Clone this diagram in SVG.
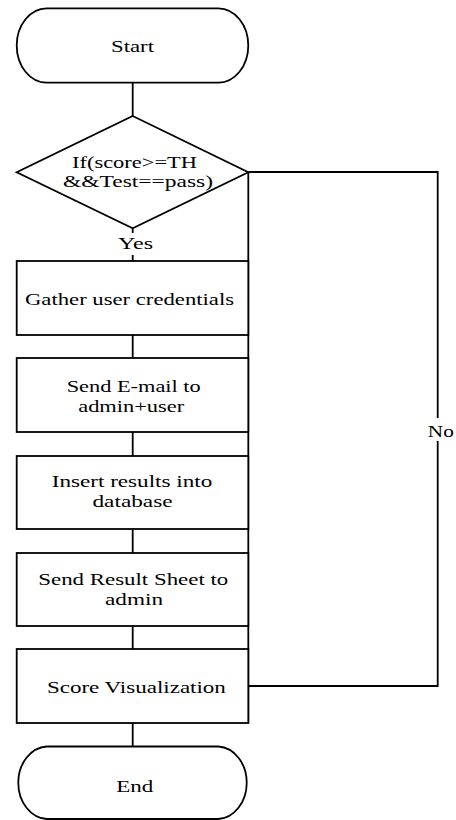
<svg xmlns="http://www.w3.org/2000/svg" width="456" height="820" viewBox="0 0 456 820">
<style>
.s{fill:#fff;stroke:#000;stroke-width:1.8}
.c{fill:none;stroke:#000;stroke-width:1.8}
.t{font-family:'Liberation Serif','DejaVu Serif',serif;font-size:16px;fill:#000;text-anchor:middle}
</style>
<rect width="456" height="820" fill="#fff"/>
<g id="connectors">
<path class="c" d="M132.7,82.7V116"/>
<path class="c" d="M132.7,228.3V233M132.7,255V261"/>
<path class="c" d="M132.7,335V358M132.7,432V456M132.7,529V553M132.7,626V649M132.7,723V746.5"/>
<path class="c" d="M248.3,172V723"/>
<path class="c" d="M248.3,172H437.7V418M437.7,441V686H248.3"/>
<text class="t" x="135.5" y="249.3" textLength="35" lengthAdjust="spacingAndGlyphs">Yes</text>
<text class="t" x="440.8" y="436.5" textLength="26" lengthAdjust="spacingAndGlyphs">No</text>
</g>
<g id="start">
<path class="s" d="M46.7,8.3H218.3A30,37.2 0 0 1 218.3,82.7H46.7A30,37.2 0 0 1 46.7,8.3Z"/>
<text class="t" x="132.5" y="52" textLength="43" lengthAdjust="spacingAndGlyphs">Start</text>
</g>
<g id="decision">
<path class="s" d="M132.7,116L248.3,172.3L132.7,228.3L16.7,172.3Z"/>
<text class="t" x="134.5" y="167.7" textLength="125" lengthAdjust="spacingAndGlyphs">If(score&gt;=TH</text>
<text class="t" x="138" y="187" textLength="150" lengthAdjust="spacingAndGlyphs">&amp;&amp;Test==pass)</text>
</g>
<g id="gather">
<rect class="s" x="16.7" y="261" width="231.6" height="74"/>
<text class="t" x="129.5" y="305" textLength="209" lengthAdjust="spacingAndGlyphs">Gather user credentials</text>
</g>
<g id="email">
<rect class="s" x="16.7" y="358" width="231.6" height="74"/>
<text class="t" x="133.7" y="392.3" textLength="134" lengthAdjust="spacingAndGlyphs">Send E-mail to</text>
<text class="t" x="131.2" y="411.7" textLength="106" lengthAdjust="spacingAndGlyphs">admin+user</text>
</g>
<g id="insert">
<rect class="s" x="16.7" y="456" width="231.6" height="73"/>
<text class="t" x="132" y="487.3" textLength="160.6" lengthAdjust="spacingAndGlyphs">Insert results into</text>
<text class="t" x="132.5" y="506.7" textLength="80" lengthAdjust="spacingAndGlyphs">database</text>
</g>
<g id="sheet">
<rect class="s" x="16.7" y="553" width="231.6" height="73"/>
<text class="t" x="133.3" y="585" textLength="190" lengthAdjust="spacingAndGlyphs">Send Result Sheet to</text>
<text class="t" x="134" y="605" textLength="58" lengthAdjust="spacingAndGlyphs">admin</text>
</g>
<g id="visualization">
<rect class="s" x="16.7" y="649" width="231.6" height="74"/>
<text class="t" x="136.4" y="693.3" textLength="179" lengthAdjust="spacingAndGlyphs">Score Visualization</text>
</g>
<g id="end">
<path class="s" d="M46.7,746.5H218.3A30,36.3 0 0 1 218.3,819H46.7A30,36.3 0 0 1 46.7,746.5Z"/>
<text class="t" x="134.8" y="791.6" textLength="37" lengthAdjust="spacingAndGlyphs">End</text>
</g>
</svg>
